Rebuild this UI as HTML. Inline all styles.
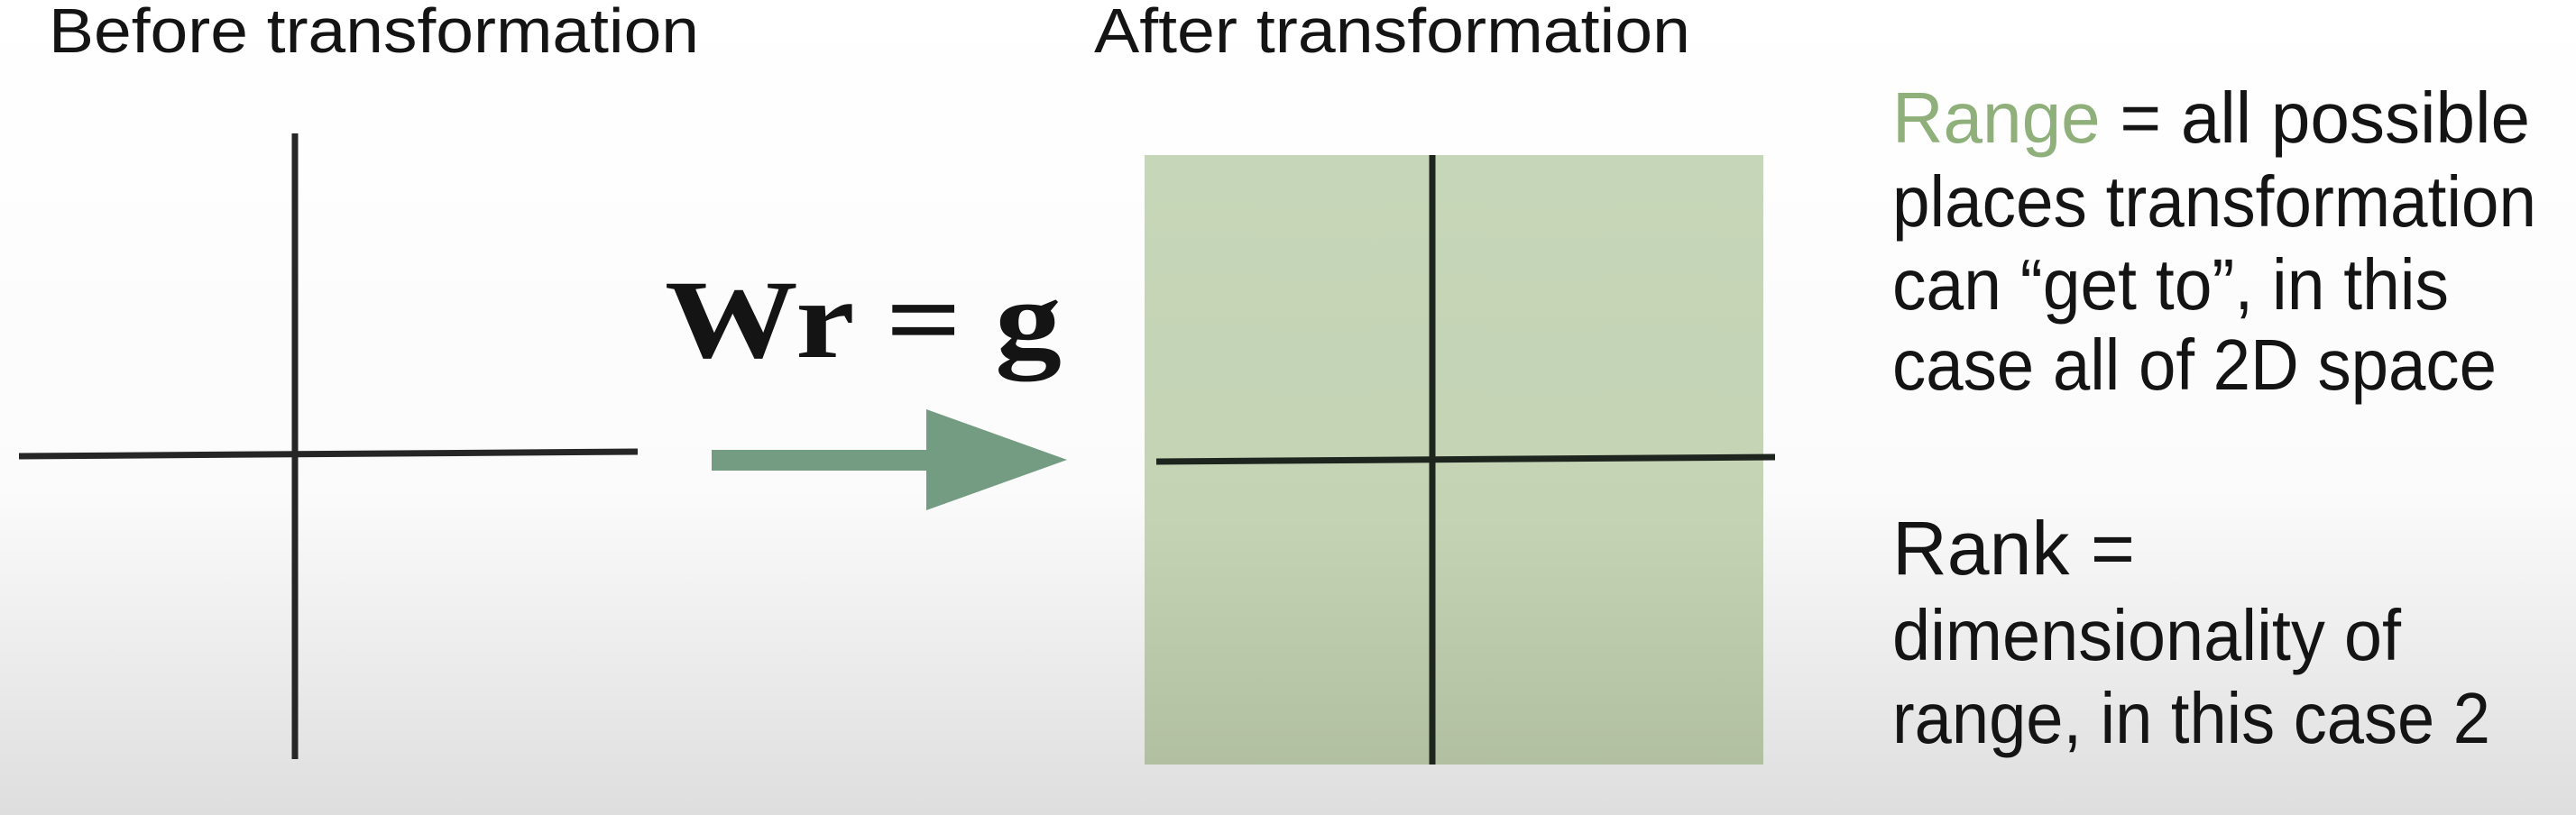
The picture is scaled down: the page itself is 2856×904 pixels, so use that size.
<!DOCTYPE html>
<html><head><meta charset="utf-8"><style>
html,body{margin:0;padding:0;width:2856px;height:904px;overflow:hidden}
svg{display:block}
text{font-family:"Liberation Sans",sans-serif;fill:#141414}
</style></head><body>
<svg width="2856" height="904" viewBox="0 0 2856 904" xmlns="http://www.w3.org/2000/svg">
<defs>
<linearGradient id="bg" x1="0" y1="0" x2="0" y2="1">
<stop offset="0" stop-color="#ffffff"/><stop offset="0.6" stop-color="#fbfbfb"/><stop offset="1" stop-color="#dedede"/>
</linearGradient>
<linearGradient id="gb" x1="0" y1="0" x2="0" y2="1">
<stop offset="0" stop-color="#c6d6b8"/><stop offset="0.6" stop-color="#c3d3b4"/><stop offset="1" stop-color="#b1c0a0"/>
</linearGradient>
</defs>
<rect width="2856" height="904" fill="url(#bg)"/>
<text x="54" y="58" font-size="70" textLength="721" lengthAdjust="spacingAndGlyphs">Before transformation</text>
<text x="1213" y="58" font-size="70" textLength="661" lengthAdjust="spacingAndGlyphs">After transformation</text>
<line x1="327" y1="148" x2="327" y2="842" stroke="#262626" stroke-width="7"/>
<line x1="21" y1="506" x2="707" y2="501" stroke="#262626" stroke-width="7"/>
<text x="737" y="396" font-weight="bold" font-size="124" textLength="440" lengthAdjust="spacingAndGlyphs" style="font-family:'Liberation Serif',serif">Wr = g</text>
<rect x="789" y="499" width="240" height="23" fill="#739c82"/>
<polygon points="1027,454 1183,510 1027,566" fill="#739c82"/>
<rect x="1269" y="172" width="686" height="676" fill="url(#gb)"/>
<line x1="1588" y1="172" x2="1588" y2="848" stroke="#1e241e" stroke-width="7"/>
<line x1="1282" y1="512" x2="1968" y2="507" stroke="#1e241e" stroke-width="7"/>
<text x="2098" y="158" font-size="80" textLength="707" lengthAdjust="spacingAndGlyphs"><tspan style="fill:#8fb07a">Range</tspan> = all possible</text>
<text x="2098" y="251" font-size="80" textLength="714" lengthAdjust="spacingAndGlyphs">places transformation</text>
<text x="2098" y="343" font-size="80" textLength="617" lengthAdjust="spacingAndGlyphs">can “get to”, in this</text>
<text x="2098" y="432" font-size="80" textLength="670" lengthAdjust="spacingAndGlyphs">case all of 2D space</text>
<text x="2098" y="637" font-size="84" textLength="269" lengthAdjust="spacingAndGlyphs">Rank =</text>
<text x="2098" y="732" font-size="80" textLength="564" lengthAdjust="spacingAndGlyphs">dimensionality of</text>
<text x="2098" y="824" font-size="80" textLength="663" lengthAdjust="spacingAndGlyphs">range, in this case 2</text>
</svg>
</body></html>
